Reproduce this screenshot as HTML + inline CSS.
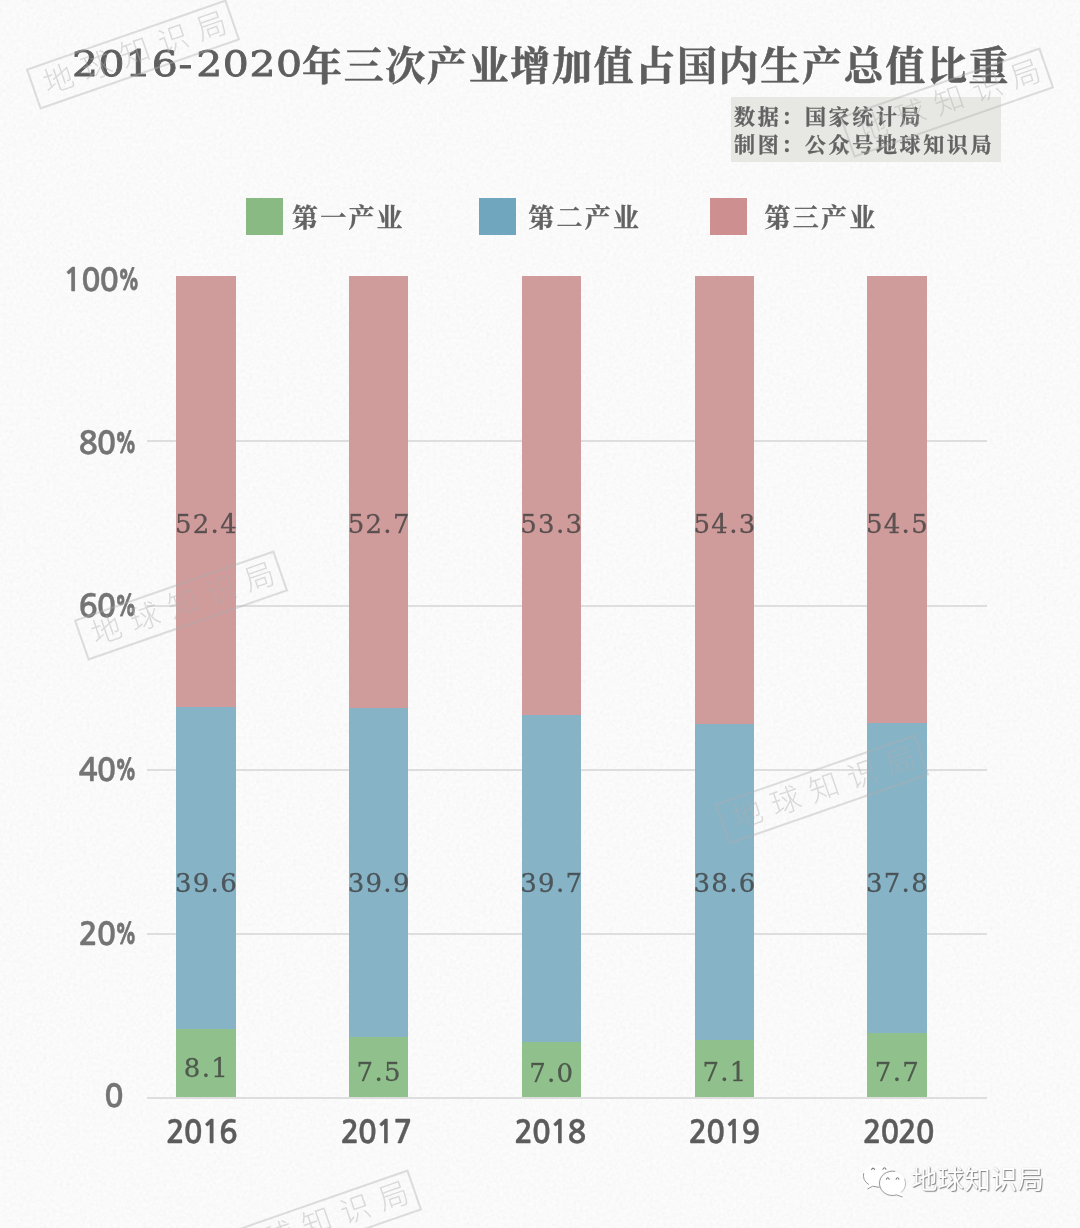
<!DOCTYPE html>
<html lang="zh-CN">
<head>
<meta charset="utf-8">
<title>2016-2020年三次产业增加值占国内生产总值比重</title>
<style>
html,body{margin:0;padding:0;}
body{width:1080px;height:1228px;position:relative;overflow:hidden;background:#fcfcfc;
  font-family:"Liberation Sans","Noto Sans CJK SC",sans-serif;}
.abs{position:absolute;}
#title{position:absolute;left:0;top:36px;width:1080px;height:60px;white-space:nowrap;color:#5e5e5e;}
#title .num{position:absolute;left:71.6px;top:3.4px;font-family:"DejaVu Serif","Liberation Serif",serif;font-weight:400;
  font-size:35.6px;line-height:50px;letter-spacing:0.5px;-webkit-text-stroke:0.8px #5e5e5e;display:inline-block;
  transform:scaleX(1.15);transform-origin:0 50%;}
#title .num b{font-weight:400;letter-spacing:3.4px;}
#title .cjk{position:absolute;left:302px;top:3px;font-family:"Liberation Serif","Noto Serif CJK SC",serif;font-weight:700;
  font-size:40px;line-height:56px;letter-spacing:1.66px;-webkit-text-stroke:0.55px #5e5e5e;}
#cap{position:absolute;left:731px;top:97px;width:270px;height:65px;background:#e7e7e3;}
#cap div{position:absolute;left:3px;white-space:nowrap;font-family:"Liberation Serif","Noto Serif CJK SC",serif;
  font-weight:700;font-size:21px;line-height:28px;letter-spacing:2.65px;color:#636363;-webkit-text-stroke:0.3px #636363;}
.lg{position:absolute;top:198px;width:37px;height:37px;}
.lt{position:absolute;top:200px;font-family:"Liberation Serif","Noto Serif CJK SC",serif;font-weight:700;
  font-size:26px;line-height:37px;letter-spacing:2.2px;color:#636363;-webkit-text-stroke:0.3px #636363;white-space:nowrap;}
.grid{position:absolute;left:147px;width:840px;height:2px;background:#dedede;}
.yl{position:absolute;left:-0.8px;width:134.5px;text-align:right;font-family:"NanumGothic","Liberation Sans",sans-serif;
  font-weight:700;font-size:32px;line-height:36px;color:#747474;white-space:nowrap;letter-spacing:-1px;-webkit-text-stroke:0.35px #747474;}
.yl i{display:inline-block;font-style:normal;width:18.5px;height:36px;vertical-align:top;text-align:left;letter-spacing:0;}
.yl i u{display:inline-block;text-decoration:none;transform:scale(0.62,0.88);transform-origin:0 60%;-webkit-text-stroke:0.9px #747474;}
.xl{position:absolute;top:1113.5px;margin-left:-0.8px;width:120px;text-align:center;font-family:"NanumGothic","Liberation Sans",sans-serif;
  font-weight:700;font-size:31px;line-height:38px;color:#5c5c5c;letter-spacing:-1.1px;white-space:nowrap;-webkit-text-stroke:0.35px #5c5c5c;}
.bar{position:absolute;width:59.5px;}
.p{background:#cf9b9b;}
.b{background:#86b3c6;}
.g{background:#90c08b;}
.v{position:absolute;width:100px;text-align:center;font-family:"DejaVu Serif","Liberation Serif",serif;font-size:26px;
  line-height:30px;color:rgba(60,60,60,0.78);white-space:nowrap;letter-spacing:1.3px;text-indent:1.3px;-webkit-text-stroke:0.3px rgba(60,60,60,0.6);}
.wm{position:absolute;width:208px;height:39px;border:2px solid rgba(175,175,175,0.4);color:rgba(175,175,175,0.44);
  font-family:"Liberation Sans","Noto Sans CJK SC",sans-serif;font-weight:300;font-size:30px;line-height:38px;
  text-align:center;letter-spacing:10.5px;text-indent:10.5px;white-space:nowrap;transform:rotate(-19.2deg);transform-origin:50% 50%;}
#wx{position:absolute;left:911px;top:1162px;font-family:"Liberation Sans","Noto Sans CJK SC",sans-serif;font-size:26.5px;
  line-height:36px;color:#fff;text-shadow:1px 1px 1px rgba(0,0,0,0.45),0 0 1px rgba(0,0,0,0.25);white-space:nowrap;letter-spacing:0.1px;}
</style>
</head>
<body>
<svg class="abs" style="left:0;top:0" width="1080" height="1228" viewBox="0 0 1080 1228">
  <defs>
    <filter id="paper" x="0" y="0" width="100%" height="100%">
      <feTurbulence type="fractalNoise" baseFrequency="0.3" numOctaves="3" seed="7" result="n"/>
      <feColorMatrix in="n" type="matrix" values="0 0 0 0 0.5  0 0 0 0 0.5  0 0 0 0 0.5  0.9 0.9 0.9 0 -1.05"/>
    </filter>
  </defs>
  <rect width="1080" height="1228" fill="#fcfcfc"/>
  <rect width="1080" height="1228" filter="url(#paper)" opacity="0.11"/>
</svg>
<!-- TITLE -->
<div id="title"><span class="num">2016<b>-</b>2020</span><span class="cjk">年三次产业增加值占国内生产总值比重</span></div>

<!-- CAPTION -->
<div id="cap"><div style="top:5.5px">数据：国家统计局</div><div style="top:34px">制图：公众号地球知识局</div></div>

<!-- LEGEND -->
<div class="lg" style="left:246px;background:#8aba83"></div><div class="lt" style="left:292px">第一产业</div>
<div class="lg" style="left:478.5px;background:#70a6be"></div><div class="lt" style="left:528.3px">第二产业</div>
<div class="lg" style="left:710px;background:#cd8f8f"></div><div class="lt" style="left:764.6px">第三产业</div>

<!-- GRID -->
<div class="grid" style="top:440px"></div>
<div class="grid" style="top:605px"></div>
<div class="grid" style="top:769px"></div>
<div class="grid" style="top:933px"></div>
<div class="grid" style="top:1097px"></div>

<!-- Y LABELS -->
<div class="yl" style="top:261.5px;width:137.3px">100<i><u>%</u></i></div>
<div class="yl" style="top:424.7px">80<i><u>%</u></i></div>
<div class="yl" style="top:587.8px">60<i><u>%</u></i></div>
<div class="yl" style="top:751.5px">40<i><u>%</u></i></div>
<div class="yl" style="top:915.5px">20<i><u>%</u></i></div>
<div class="yl" style="top:1077.5px;width:123.4px">0</div>

<div id="bars">
<!-- 2016 -->
<div class="bar p" style="left:176.0px;top:276.0px;height:431.5px"></div>
<div class="bar b" style="left:176.0px;top:707.0px;height:322.9px"></div>
<div class="bar g" style="left:176.0px;top:1029.4px;height:67.6px"></div>
<div class="v" style="left:155.8px;top:508.5px">52.4</div>
<div class="v" style="left:155.8px;top:867.5px">39.6</div>
<div class="v" style="left:155.8px;top:1053px">8.1</div>
<div class="xl" style="left:142.2px">2016</div>
<!-- 2017 -->
<div class="bar p" style="left:348.8px;top:276.0px;height:432.7px"></div>
<div class="bar b" style="left:348.8px;top:708.2px;height:329.6px"></div>
<div class="bar g" style="left:348.8px;top:1037.3px;height:59.7px"></div>
<div class="v" style="left:328.6px;top:508.5px">52.7</div>
<div class="v" style="left:328.6px;top:867.5px">39.9</div>
<div class="v" style="left:328.6px;top:1057px">7.5</div>
<div class="xl" style="left:316.6px">2017</div>
<!-- 2018 -->
<div class="bar p" style="left:521.5px;top:276.4px;height:438.6px"></div>
<div class="bar b" style="left:521.5px;top:714.5px;height:328.1px"></div>
<div class="bar g" style="left:521.5px;top:1042.1px;height:54.9px"></div>
<div class="v" style="left:501.2px;top:508.5px">53.3</div>
<div class="v" style="left:501.2px;top:867.5px">39.7</div>
<div class="v" style="left:501.2px;top:1058px">7.0</div>
<div class="xl" style="left:490.5px">2018</div>
<!-- 2019 -->
<div class="bar p" style="left:694.6px;top:275.6px;height:448.7px"></div>
<div class="bar b" style="left:694.6px;top:723.8px;height:316.9px"></div>
<div class="bar g" style="left:694.6px;top:1040.2px;height:56.8px"></div>
<div class="v" style="left:674.4px;top:508.5px">54.3</div>
<div class="v" style="left:674.4px;top:867.5px">38.6</div>
<div class="v" style="left:674.4px;top:1057px">7.1</div>
<div class="xl" style="left:664.7px">2019</div>
<!-- 2020 -->
<div class="bar p" style="left:867.0px;top:276.4px;height:447.4px"></div>
<div class="bar b" style="left:867.0px;top:723.3px;height:310.4px"></div>
<div class="bar g" style="left:867.0px;top:1033.2px;height:63.8px"></div>
<div class="v" style="left:846.8px;top:508.5px">54.5</div>
<div class="v" style="left:846.8px;top:867.5px">37.8</div>
<div class="v" style="left:846.8px;top:1057px">7.7</div>
<div class="xl" style="left:838.9px">2020</div>
</div>

<!-- WATERMARK STAMPS -->
<div class="wm" style="left:27px;top:32.5px">地球知识局</div>
<div class="wm" style="left:841px;top:80.5px">地球知识局</div>
<div class="wm" style="left:75px;top:583.5px">地球知识局</div>
<div class="wm" style="left:716px;top:767.5px">地球知识局</div>
<div class="wm" style="left:209px;top:1202.5px">地球知识局</div>

<!-- WECHAT MARK -->
<svg class="abs" style="left:858px;top:1160px;overflow:visible" width="54" height="42" viewBox="0 0 54 42">
  <g fill="#ffffff">
    <ellipse cx="17.6" cy="15.5" rx="12.2" ry="10.8"/>
    <path d="M10.60 24.35L9.8 28.9L15.2 26z"/>
    <ellipse cx="34.5" cy="23.3" rx="14.2" ry="13.399999999999999" fill="#f4f4f4"/>
    <ellipse cx="34.5" cy="23.3" rx="13.0" ry="12.2"/>
    <path d="M38.52 34.90L44.2 36.9L43.20 32.37z"/>
  </g>
  <g fill="none" stroke="#8c8c8c" stroke-width="0.9" stroke-linecap="round" stroke-linejoin="round">
    <path d="M5.59 13.62A12.2 10.8 0 0 0 10.60 24.35" />
    <path d="M9.8 28.9L14.6 26.2Q18 26.9 21.2 27.3" />
    <path d="M36.76 11.29A13.0 12.2 0 1 0 38.52 34.90L44.2 36.9" />
    <path d="M43.20 32.37A13.0 12.2 0 0 0 46.72 19.13" stroke="#b4b4b4"/>
    <path d="M13.6 9.6Q15 6.6 16.6 9.6M24.9 9.2Q26.4 6.4 27.9 9.2M28.4 19.2Q29.8 16.4 31.2 19.2M38.1 19.2Q39.5 16.4 40.9 19.2" stroke="#7a7a7a" stroke-width="1.1"/>
  </g>
</svg>
<div id="wx">地球知识局</div>
</body>
</html>
